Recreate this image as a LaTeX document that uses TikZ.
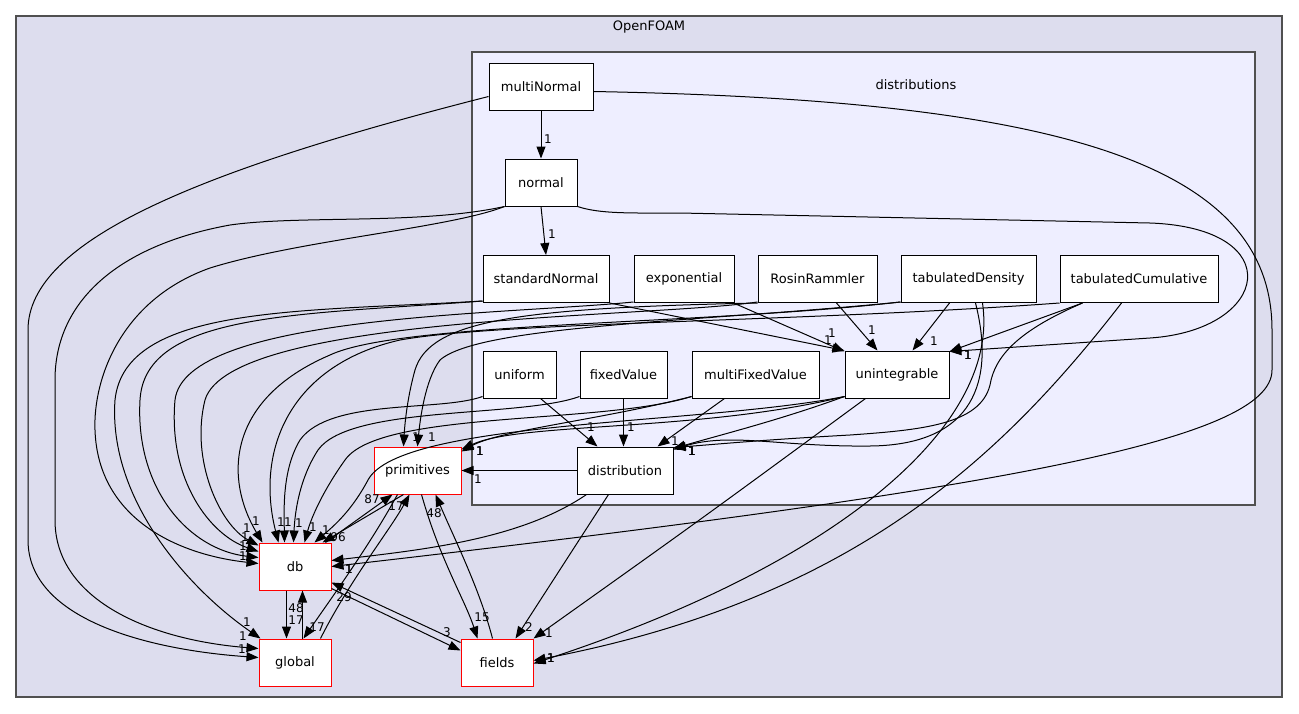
\documentclass[tikz,border=0pt]{standalone}
\usepackage{fontspec}
\setmainfont{DejaVu Sans}
\usetikzlibrary{arrows.meta}
\definecolor{outerfill}{HTML}{DDDDEE}
\definecolor{innerfill}{HTML}{EEEEFF}
\definecolor{clusterline}{HTML}{505050}
\tikzset{
  dirnode/.style={draw=black, fill=white, line width=1pt, minimum height=47pt, inner sep=0pt, font=\fontsize{13}{15}\selectfont}
}
\tikzset{
  extnode/.style={dirnode, draw=red}
}
\tikzset{
  lbl/.style={inner sep=0pt, font=\fontsize{12}{12}\selectfont},
  edge/.style={->, line width=1pt},
  cluster/.style={draw=clusterline, line width=1.5pt}
}

\begin{document}
\begin{tikzpicture}[x=1pt, y=-1pt, >={Triangle[length=12pt,width=9pt]}]
      \useasboundingbox (0,0) rectangle (1299,713);
      \draw[cluster, fill=outerfill] (16,16) rectangle (1282,697);
      \draw[cluster, fill=innerfill] (472,52) rectangle (1255,505);
      \node[font=\fontsize{13}{15}\selectfont] (openfoam) at (649,27) {OpenFOAM};
      \node[font=\fontsize{13}{15}\selectfont] (distributions) at (916,85) {distributions};

      \node[dirnode, minimum width=104pt] (mnorm) at (541,86.5) {multiNormal};
      \node[dirnode, minimum width=72pt] (norm) at (541,182.5) {normal};
      \node[dirnode, minimum width=126pt] (stdnorm) at (546,279) {standardNormal};
      \node[dirnode, minimum width=100pt] (expo) at (684,279) {exponential};
      \node[dirnode, minimum width=119pt] (rosin) at (817.5,279) {RosinRammler};
      \node[dirnode, minimum width=135pt] (tabdens) at (968.5,279) {tabulatedDensity};
      \node[dirnode, minimum width=158pt] (tabcum) at (1139,279) {tabulatedCumulative};
      \node[dirnode, minimum width=73pt] (unif) at (519.5,374.5) {uniform};
      \node[dirnode, minimum width=87pt] (fixval) at (623.5,374.5) {fixedValue};
      \node[dirnode, minimum width=127pt] (mfixval) at (755.5,374.5) {multiFixedValue};
      \node[dirnode, minimum width=104pt] (uninteg) at (897,374.5) {unintegrable};
      \node[dirnode, minimum width=96pt] (distr) at (625,470.5) {distribution};
      \node[extnode, minimum width=87pt] (prims) at (417.5,470.5) {primitives};
      \node[extnode, minimum width=72pt] (db) at (295,566.5) {db};
      \node[extnode, minimum width=72pt] (glob) at (295,662.5) {global};
      \node[extnode, minimum width=72pt] (fields) at (497,662.5) {fields};

      % inside distributions
      \draw[edge] (mnorm.south) -- (norm.north) node[lbl] at (548,139) {1};
      \draw[edge] (norm.south) -- (stdnorm.north) node[lbl] at (552,234) {1};
      \draw[edge] (stdnorm.south east) -- (uninteg.north west) node[lbl] at (828,340) {1};
      \draw[edge] ([xshift=-1pt]expo.south east) -- ([yshift=-1pt]uninteg.north west) node[lbl] at (832,333) {1};
      \draw[edge] ([xshift=79pt]rosin.south west) -- ([xshift=33pt]uninteg.north west) node[lbl] at (872,330) {1};
      \draw[edge] ([xshift=49pt]tabdens.south west) -- ([xshift=68pt]uninteg.north west) node[lbl] at (934,341) {1};
      \draw[edge] ([xshift=23pt]tabcum.south west) -- ([yshift=-1pt]uninteg.north east) node[lbl] at (968,355) {1};
      \draw[edge] (norm.south east) .. controls (600,214) and (630,213) .. (680,213) -- (1150,223) .. controls (1290,228) and (1270,330) .. (1150,338) -- ([yshift=-1pt]uninteg.north east) node[lbl] at (968,355) {1};
      \draw[edge] ([xshift=58pt]unif.south west) -- ([xshift=21pt]distr.north west) node[lbl] at (591,427) {1};
      \draw[edge] ([xshift=44pt]fixval.south west) -- ([xshift=47pt]distr.north west) node[lbl] at (631,427) {1};
      \draw[edge] ([xshift=33pt]mfixval.south west) -- ([xshift=81pt]distr.north west) node[lbl] at (675,441) {1};
      \draw[edge] ([yshift=2pt]uninteg.south west) .. controls (780,420) and (720,435) .. ([yshift=-2pt]distr.north east) node[lbl] at (692,451) {1};
      \draw[edge] ([xshift=75pt]tabdens.south west) .. controls (995,380) and (975,445) .. (870,446) .. controls (780,447) and (730,432) .. ([yshift=-3pt]distr.north east) node[lbl] at (692,451) {1};
      \draw[edge] ([xshift=23pt]tabcum.south west) .. controls (1020,330) and (995,355) .. (990,385) .. controls (980,425) and (920,430) .. (850,435) .. controls (760,440) and (720,444) .. ([yshift=-1pt]distr.north east) node[lbl] at (692,451) {1};

      % into global
      \draw[edge] ([yshift=-34pt]mnorm.north west) .. controls (200,170) and (28,240) .. (28,330) -- (28,540) .. controls (28,620) and (150,650) .. ([yshift=-19pt]glob.north west) node[lbl] at (242,649) {1};
      \draw[edge] (norm.south west) .. controls (420,225) and (300,215) .. (230,225) .. controls (120,245) and (55,300) .. (55,380) -- (55,520) .. controls (55,600) and (150,640) .. ([yshift=-10pt]glob.north west) node[lbl] at (243,636) {1};
      \draw[edge] ([yshift=2pt]stdnorm.south west) .. controls (300,312) and (125,305) .. (115,400) .. controls (108,500) and (190,590) .. ([xshift=2pt]glob.north west) node[lbl] at (247,622) {1};

      % into db
      \draw[edge] ([yshift=-29pt]mnorm.north east) .. controls (1050,100) and (1272,160) .. (1272,330) -- (1272,370) .. controls (1272,440) and (1000,490) .. ([yshift=-24pt]db.north east) node[lbl] at (349,569) {1};
      \draw[edge] (norm.south west) .. controls (450,228) and (300,240) .. (210,268) .. controls (120,300) and (93,380) .. (95,430) .. controls (98,520) and (180,555) .. ([yshift=-21pt]db.north west) node[lbl] at (243,556) {1};
      \draw[edge] ([yshift=2pt]stdnorm.south west) .. controls (300,315) and (145,312) .. (140,400) .. controls (135,490) and (190,550) .. ([yshift=-15pt]db.north west) node[lbl] at (243,546) {1};
      \draw[edge] ([yshift=1pt]expo.south west) .. controls (500,315) and (185,315) .. (175,400) .. controls (168,480) and (210,535) .. ([yshift=-9pt]db.north west) node[lbl] at (245,537) {1};
      \draw[edge] ([yshift=1pt]rosin.south west) .. controls (650,318) and (230,315) .. (205,400) .. controls (190,460) and (220,525) .. ([yshift=-3pt]db.north west) node[lbl] at (247,528) {1};
      \draw[edge] ([yshift=1pt]tabdens.south west) .. controls (700,325) and (400,322) .. (330,355) .. controls (225,400) and (225,480) .. ([xshift=4pt]db.north west) node[lbl] at (256,521) {1};
      \draw[edge] (tabcum.south west) .. controls (800,322) and (500,322) .. (400,340) .. controls (290,365) and (255,450) .. ([xshift=20pt]db.north west) node[lbl] at (281,522) {1};
      \draw[edge] ([yshift=2pt]unif.south west) .. controls (440,412) and (330,398) .. (300,440) .. controls (282,470) and (284,510) .. ([xshift=26pt]db.north west) node[lbl] at (288,522) {1};
      \draw[edge] ([yshift=2pt]fixval.south west) .. controls (520,418) and (350,405) .. (318,450) .. controls (300,478) and (295,510) .. ([xshift=35pt]db.north west) node[lbl] at (299,523) {1};
      \draw[edge] ([yshift=2pt]mfixval.south west) .. controls (600,425) and (380,410) .. (345,460) .. controls (325,488) and (312,515) .. ([xshift=46pt]db.north west) node[lbl] at (313,527) {1};
      \draw[edge] ([yshift=2pt]uninteg.south west) .. controls (700,425) and (400,420) .. (368,480) .. controls (352,510) and (335,525) .. ([xshift=56pt]db.north west) node[lbl] at (326,530) {1};
      \draw[edge] ([xshift=10pt]distr.south west) .. controls (520,540) and (420,550) .. ([yshift=-18pt]db.north east) node[lbl] at (349,569) {1};

      % into primitives
      \draw[edge] (rosin.south west) .. controls (520,308) and (430,320) .. (415,370) .. controls (408,395) and (405,420) .. ([xshift=30pt]prims.north west) node[lbl] at (416,437) {1};
      \draw[edge] ([yshift=1pt]tabdens.south west) .. controls (700,322) and (480,325) .. (440,360) .. controls (425,380) and (420,420) .. ([xshift=44pt]prims.north west) node[lbl] at (432,437) {1};
      \draw[edge] ([yshift=2pt]mfixval.south west) .. controls (600,420) and (500,430) .. ([yshift=-5pt]prims.north east) node[lbl] at (480,451) {1};
      \draw[edge] ([yshift=2pt]uninteg.south west) .. controls (700,432) and (520,422) .. ([yshift=-3pt]prims.north east) node[lbl] at (480,451) {1};
      \draw[edge] (distr.west) -- (prims.east) node[lbl] at (478,479) {1};

      % into fields
      \draw[edge] ([xshift=82pt]tabdens.south west) .. controls (1000,420) and (850,560) .. ([yshift=-25pt]fields.north east) node[lbl] at (551,658) {1};
      \draw[edge] ([xshift=62pt]tabcum.south west) .. controls (1000,460) and (850,600) .. ([yshift=-22pt]fields.north east) node[lbl] at (551,658) {1};
      \draw[edge] ([xshift=21pt]uninteg.south west) .. controls (700,520) .. (fields.north east) node[lbl] at (549,633) {1};
      \draw[edge] ([xshift=32pt]distr.south west) -- ([xshift=55pt]fields.north west) node[lbl] at (529,627) {2};

      % among the outside folders
      \draw[edge] ([xshift=-6pt]db.north east) -- ([xshift=19pt]prims.south west) node[lbl] at (372,499) {87};
      \draw[edge] ([xshift=30pt]prims.south west) -- ([xshift=-9pt]db.north east) node[lbl] at (338,537) {96};
      \draw[edge] ([xshift=-11pt]glob.north east) .. controls (350,580) and (390,530) .. ([xshift=36pt]prims.south west) node[lbl] at (396,506) {17};
      \draw[edge] ([xshift=24pt]prims.south west) .. controls (370,545) and (330,600) .. ([xshift=45pt]glob.north west) node[lbl] at (317,627) {17};
      \draw[edge] ([xshift=28pt]db.south west) -- ([xshift=28pt]glob.north west) node[lbl] at (296,620) {17};
      \draw[edge] ([xshift=44pt]glob.north west) -- ([xshift=44pt]db.south west) node[lbl] at (296,608) {48};
      \draw[edge] ([yshift=-4pt]fields.north west) -- ([yshift=8pt]db.south east) node[lbl] at (344,597) {29};
      \draw[edge] ([yshift=2pt]db.south east) -- ([yshift=-12pt]fields.north west) node[lbl] at (447,632) {3};
      \draw[edge] ([xshift=48pt]prims.south west) .. controls (440,560) and (465,600) .. ([xshift=17pt]fields.north west) node[lbl] at (482,617) {15};
      \draw[edge] ([xshift=32pt]fields.north west) .. controls (480,590) and (455,540) .. ([xshift=62pt]prims.south west) node[lbl] at (434,513) {48};
    \end{tikzpicture}
\end{document}
